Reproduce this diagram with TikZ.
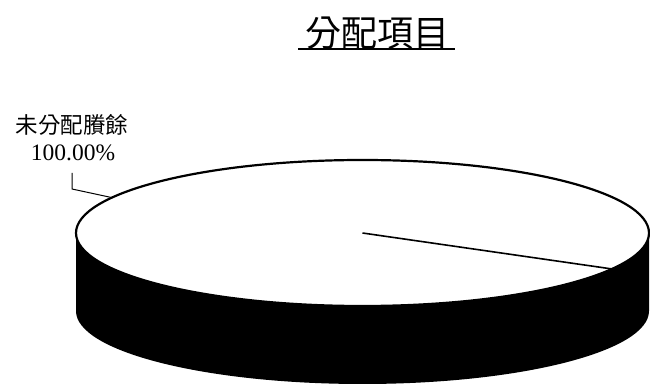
\documentclass[tikz,border=0pt]{standalone}
\usepackage{fontspec}
\setmainfont{Liberation Serif}
\newfontfamily\cjk{Noto Sans CJK TC}
\begin{document}
\begin{tikzpicture}[x=1pt,y=1pt,
  rim/.style={line width=2.2pt,black},
  leader/.style={line width=1pt,black},
  lbl/.style={inner sep=0pt,font=\cjk\fontsize{22.5}{24}\selectfont},
  pct/.style={inner sep=0pt,font=\fontsize{23.5}{26}\selectfont}]
\useasboundingbox (0,0) rectangle (650,385);
\clip (0,0) rectangle (650,385);
% side of the disc
\fill[black] (76,152) -- (76,74)
  arc[start angle=180,end angle=360,x radius=286.5,y radius=73]
  -- (649,152)
  arc[start angle=0,end angle=-180,x radius=286.5,y radius=73] -- cycle;
% top face
\coordinate (c) at (362.5,152);
\draw[rim,fill=white] (c) ellipse[x radius=286.5,y radius=73];
\path (c) ++(-29.5:286.5 and 73) coordinate (s);
\path (c) ++(151:286.5 and 73) coordinate (lp);
\draw[rim,line width=1.6pt] (c) -- (s);
% title
\node[inner sep=0pt,font=\cjk\fontsize{36}{40}\selectfont] (title) at (377,352) {分配項目};
\draw[line width=2pt] (298,336) -- (455,336);
% label
\node[lbl] (name) at (72,260) {未分配賸餘};
\node[pct] (val) at (73,232) {100.00\%};
\coordinate (k1) at (72,212);
\coordinate (k2) at (72,196);
\draw[leader] (k1) -- (k2) -- (lp);
\end{tikzpicture}
\end{document}
